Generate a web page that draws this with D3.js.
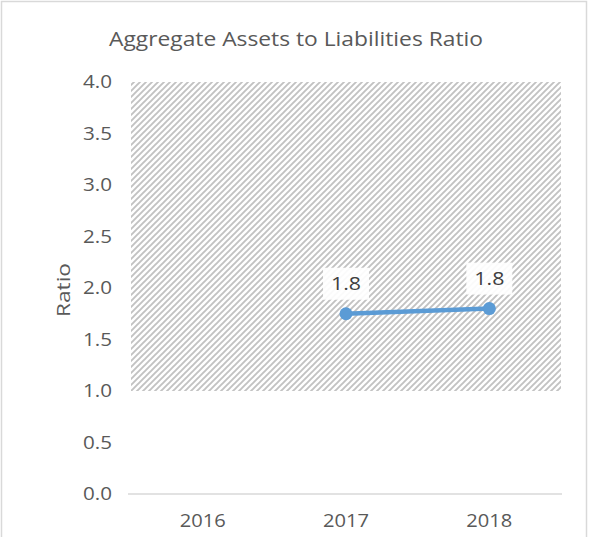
<!DOCTYPE html>
<html><head><meta charset="utf-8">
<script src="https://cdn.jsdelivr.net/npm/d3@7"></script>
<style>body{margin:0;background:#fff;} svg{display:block;font-family:"Open Sans","Lato",sans-serif;}</style>
</head><body>
<script>
const categories = ["2016","2017","2018"];
const ratioValues = [null, 1.75, 1.80];
const bandLow = [1.0, 1.0, 1.0];
const bandHigh = [4.0, 4.0, 4.0];
const yTicks = [0,0.5,1.0,1.5,2.0,2.5,3.0,3.5,4.0];
const title = "Aggregate  Assets to Liabilities Ratio";
const yTitle = "Ratio";

const W=590,H=537;
const svg=d3.select("body").append("svg").attr("width",W).attr("height",H);
svg.append("rect").attr("x",1.5).attr("y",1.5).attr("width",585).attr("height",H+10).attr("fill","#fff").attr("stroke","#d9d9d9").attr("stroke-width",1.5);

const defs=svg.append("defs");
const pat=defs.append("pattern").attr("id","hatch").attr("patternUnits","userSpaceOnUse").attr("width",6).attr("height",6);
pat.append("rect").attr("width",6).attr("height",6).attr("fill","#fff");
pat.append("path").attr("d","M-1,7 L7,-1 M-4,4 L4,-4 M2,10 L10,2").attr("stroke","#c2c2c2").attr("stroke-width",1.9);

const x0=131,x1=561;
const x=d3.scaleBand().domain(categories).range([x0,x1]);
const y=d3.scaleLinear().domain([0,4]).range([494,82]);

// hatched band
const area=d3.area().x((d,i)=> i===0? x0 : (i===categories.length-1? x1 : x(categories[i])+x.bandwidth()/2))
  .y0((d,i)=>y(bandLow[i])).y1((d,i)=>y(bandHigh[i]));
svg.append("path").datum(categories).attr("d",area).attr("fill","url(#hatch)");

// axis line
svg.append("line").attr("x1",x0-3).attr("x2",x1+1).attr("y1",y(0)).attr("y2",y(0)).attr("stroke","#d9d9d9").attr("stroke-width",1.5);

// y ticks
svg.append("g").selectAll("text").data(yTicks).join("text")
  .attr("x",112).attr("y",d=>y(d)).attr("dy","0.35em").attr("text-anchor","end")
  .attr("font-size",18).attr("fill","#595959").attr("textLength",29).attr("lengthAdjust","spacingAndGlyphs").text(d=>d.toFixed(1));
// x ticks
svg.append("g").selectAll("text").data(categories).join("text")
  .attr("x",d=>x(d)+x.bandwidth()/2).attr("y",527).attr("text-anchor","middle")
  .attr("font-size",18).attr("fill","#595959").attr("textLength",46).attr("lengthAdjust","spacingAndGlyphs").text(d=>d);

// title
svg.append("text").attr("x",296).attr("y",46).attr("text-anchor","middle").attr("font-size",20).attr("fill","#595959")
  .attr("textLength",374).attr("lengthAdjust","spacingAndGlyphs").text(title);
svg.append("text").attr("transform","translate(70,290) rotate(-90)").attr("text-anchor","middle").attr("font-size",19).attr("fill","#595959")
  .attr("textLength",54).attr("lengthAdjust","spacingAndGlyphs").text(yTitle);

// line
const pts=categories.map((c,i)=>({c,v:ratioValues[i]})).filter(d=>d.v!=null);
const line=d3.line().x(d=>x(d.c)+x.bandwidth()/2).y(d=>y(d.v));
svg.append("path").datum(pts).attr("d",line).attr("fill","none").attr("stroke","#5b9bd5").attr("stroke-width",4.5).attr("stroke-linecap","round");
svg.append("g").selectAll("circle").data(pts).join("circle")
  .attr("cx",d=>x(d.c)+x.bandwidth()/2).attr("cy",d=>y(d.v)).attr("r",6.5).attr("fill","#5b9bd5");

// data labels
const lg=svg.append("g").selectAll("g").data(pts).join("g")
  .attr("transform",d=>`translate(${x(d.c)+x.bandwidth()/2},${y(d.v)-30})`);
lg.append("rect").attr("x",-23).attr("y",-16).attr("width",46).attr("height",32).attr("fill","#fff").attr("opacity",0.92);
lg.append("text").attr("text-anchor","middle").attr("dy","0.35em").attr("font-size",19).attr("fill","#404040")
  .attr("textLength",30).attr("lengthAdjust","spacingAndGlyphs").text(d=>d.v.toFixed(1));
</script>
</body></html>
